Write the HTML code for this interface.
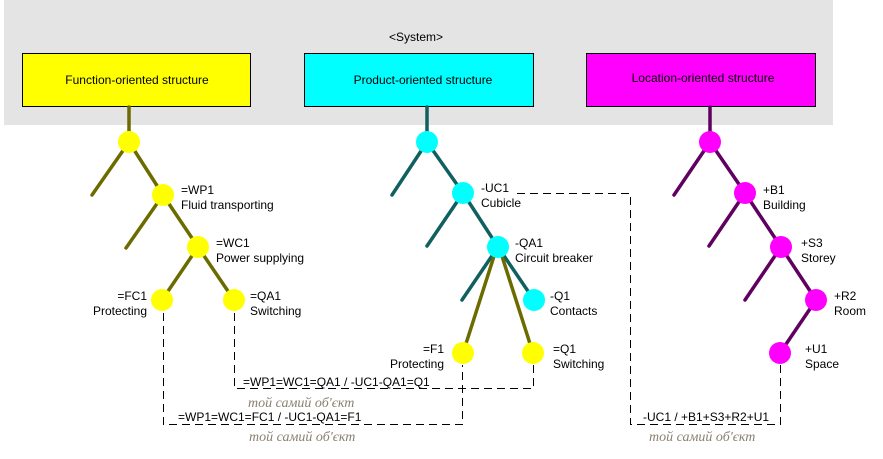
<!DOCTYPE html>
<html><head><meta charset="utf-8"><style>
html,body{margin:0;padding:0;background:#fff;}
svg{display:block;}
text{font-family:"Liberation Sans",sans-serif;font-size:12px;fill:#000;}
.it{font-family:"Liberation Serif",serif;font-style:italic;font-size:14px;fill:#8a8070;}
</style></head><body>
<svg width="883" height="459" viewBox="0 0 883 459">
<rect x="4" y="0" width="829" height="125" fill="#e4e4e4"/>
<text x="416" y="41" text-anchor="middle" font-size="13">&lt;System&gt;</text>
<rect x="22.5" y="53.5" width="228" height="53" fill="#ffff00" stroke="#000"/>
<text x="137" y="84" text-anchor="middle">Function-oriented structure</text>
<rect x="304.5" y="53.5" width="229" height="53" fill="#00ffff" stroke="#000"/>
<text x="423" y="84" text-anchor="middle">Product-oriented structure</text>
<rect x="586.5" y="53.5" width="229" height="53" fill="#ff00ff" stroke="#000"/>
<text x="703" y="82" text-anchor="middle">Location-oriented structure</text>
<g stroke-width="3.5" stroke-linecap="round" fill="none">
<g stroke="#6b6b00">
<line x1="129" y1="107" x2="129" y2="142"/>
<line x1="129" y1="142" x2="92" y2="195"/>
<line x1="129" y1="142" x2="163" y2="195"/>
<line x1="163" y1="195" x2="126" y2="248"/>
<line x1="163" y1="195" x2="198" y2="247"/>
<line x1="198" y1="247" x2="162" y2="300"/>
<line x1="198" y1="247" x2="234" y2="300"/>
</g>
<g stroke="#106060">
<line x1="427" y1="107" x2="427" y2="142"/>
<line x1="427" y1="142" x2="392" y2="195"/>
<line x1="427" y1="142" x2="463" y2="193"/>
<line x1="463" y1="193" x2="427" y2="246"/>
<line x1="463" y1="193" x2="498" y2="247"/>
<line x1="498" y1="247" x2="462" y2="300"/>
<line x1="498" y1="247" x2="534" y2="300"/>
</g>
<g stroke="#6b6b00">
<line x1="496" y1="250" x2="463" y2="353"/>
<line x1="500" y1="250" x2="533" y2="353"/>
</g>
<g stroke="#600060">
<line x1="710" y1="107" x2="710" y2="142"/>
<line x1="710" y1="142" x2="674" y2="195"/>
<line x1="710" y1="142" x2="745" y2="193"/>
<line x1="745" y1="193" x2="709" y2="246"/>
<line x1="745" y1="193" x2="781" y2="247"/>
<line x1="781" y1="247" x2="745" y2="300"/>
<line x1="781" y1="247" x2="816" y2="300"/>
<line x1="816" y1="300" x2="780" y2="353"/>
</g>
</g>
<g stroke="#000" stroke-width="1" stroke-dasharray="8,5" fill="none">
<polyline points="163.5,313 163.5,424.5 462.5,424.5 462.5,365"/>
<polyline points="234.5,313 234.5,388.5 533.5,388.5 533.5,365"/>
<polyline points="517,193.5 630.5,193.5 630.5,424.5 780.5,424.5 780.5,365"/>
</g>
<g fill="#ffff00">
<circle cx="129" cy="142" r="11"/><circle cx="163" cy="195" r="11"/><circle cx="198" cy="247" r="11"/>
<circle cx="162" cy="300" r="11"/><circle cx="234" cy="300" r="11"/>
<circle cx="463" cy="353" r="11"/><circle cx="533" cy="353" r="11"/>
</g>
<g fill="#00ffff">
<circle cx="427" cy="142" r="11"/><circle cx="463" cy="193" r="11"/><circle cx="498" cy="247" r="11"/><circle cx="534" cy="300" r="11"/>
</g>
<g fill="#ff00ff">
<circle cx="710" cy="142" r="11"/><circle cx="745" cy="193" r="11"/><circle cx="781" cy="247" r="11"/><circle cx="816" cy="300" r="11"/><circle cx="780" cy="353" r="11"/>
</g>
<text x="181" y="194">=WP1</text><text x="181" y="209">Fluid transporting</text>
<text x="216" y="247">=WC1</text><text x="216" y="262">Power supplying</text>
<text x="147" y="300" text-anchor="end">=FC1</text><text x="147" y="315" text-anchor="end">Protecting</text>
<text x="250" y="300">=QA1</text><text x="250" y="315">Switching</text>
<text x="481" y="192">-UC1</text><text x="481" y="207">Cubicle</text>
<text x="515" y="247">-QA1</text><text x="515" y="262">Circuit breaker</text>
<text x="550" y="300">-Q1</text><text x="550" y="315">Contacts</text>
<text x="444" y="353" text-anchor="end">=F1</text><text x="444" y="368" text-anchor="end">Protecting</text>
<text x="553" y="353">=Q1</text><text x="553" y="368">Switching</text>
<text x="763" y="194">+B1</text><text x="763" y="209">Building</text>
<text x="801" y="247">+S3</text><text x="801" y="262">Storey</text>
<text x="834" y="300">+R2</text><text x="834" y="315">Room</text>
<text x="805" y="353">+U1</text><text x="805" y="368">Space</text>
<text x="243" y="386">=WP1=WC1=QA1 / -UC1-QA1=Q1</text>
<text class="it" x="248" y="407">той самий об'єкт</text>
<text x="178" y="421">=WP1=WC1=FC1 / -UC1-QA1=F1</text>
<text class="it" x="249" y="441">той самий об'єкт</text>
<text x="643" y="421">-UC1 / +B1+S3+R2+U1</text>
<text class="it" x="649" y="441">той самий об'єкт</text>
</svg>
</body></html>
